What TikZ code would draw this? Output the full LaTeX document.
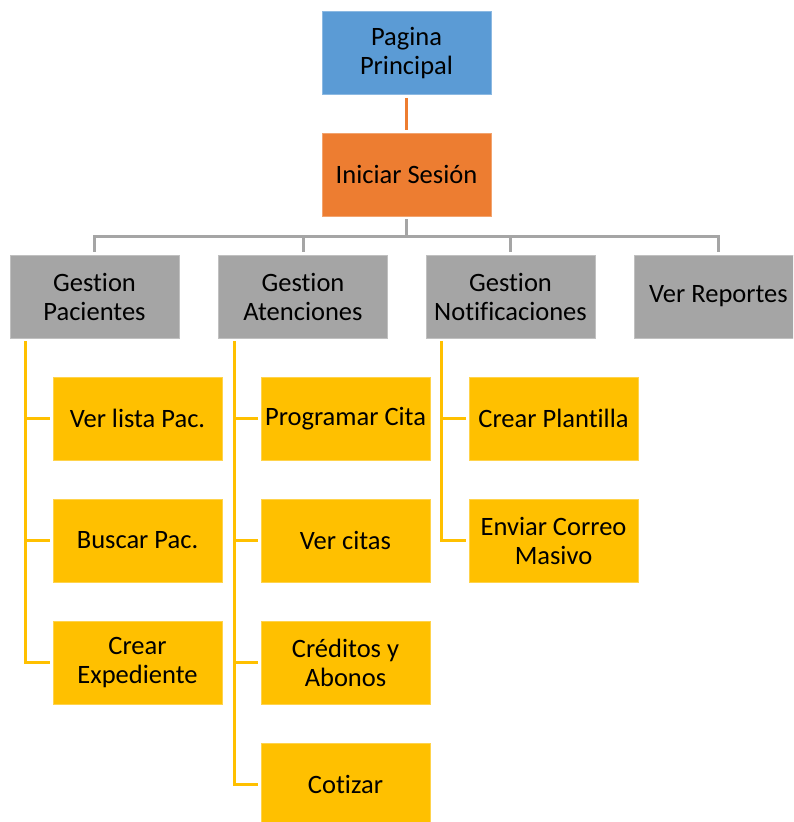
\documentclass[tikz,border=0pt]{standalone}
\usepackage{fontspec}
\setmainfont[Ligatures=NoCommon]{Carlito}
\usetikzlibrary{calc}
\definecolor{cblue}{HTML}{5B9BD5}
\definecolor{corange}{HTML}{ED7D31}
\definecolor{cgray}{HTML}{A5A5A5}
\definecolor{cyellow}{HTML}{FFC000}
\tikzset{
  box/.style={minimum width=169pt, minimum height=83pt, inner sep=2pt, align=center,
    font=\fontsize{26.5}{29}\selectfont, text=black, line width=0.8pt},
  bluebox/.style={box, fill=cblue, draw=cblue!70!white},
  orangebox/.style={box, fill=corange, draw=corange!70!white},
  graybox/.style={box, fill=cgray, draw=cgray!70!white},
  yellowbox/.style={box, fill=cyellow, draw=cyellow!70!white},
  link/.style={line width=3pt, shorten <=3pt, shorten >=3pt},
}
\begin{document}
\begin{tikzpicture}[x=1pt,y=-1pt]
\useasboundingbox (0,0) rectangle (793,822);
\begin{scope}
\clip (0,0) rectangle (793,822);
% top levels
\node[bluebox] (home) at (406.5,53) {Pagina\\Principal};
\node[orangebox] (login) at (406.5,174.5) {Iniciar Sesión};
% modules
\node[graybox] (gpac) at (94.5,296.5) {Gestion\\Pacientes};
\node[graybox] (gate) at (303,296.5) {Gestion\\Atenciones};
\node[graybox] (gnot) at (510.5,296.5) {Gestion\\Notificaciones};
\node[graybox] (rep) at (718.5,296.5) {Ver Reportes};
% patients
\node[yellowbox] (p1) at (137.5,418.5) {Ver lista Pac.};
\node[yellowbox] (p2) at (137.5,540.5) {Buscar Pac.};
\node[yellowbox] (p3) at (137.5,662.5) {Crear\\Expediente};
% appointments
\node[yellowbox] (a1) at (345.5,418.5) {Programar Cita};
\node[yellowbox] (a2) at (345.5,540.5) {Ver citas};
\node[yellowbox] (a3) at (345.5,662.5) {Créditos y\\Abonos};
\node[yellowbox] (a4) at (345.5,784.5) {Cotizar};
% notifications
\node[yellowbox] (n1) at (553.5,418.5) {Crear Plantilla};
\node[yellowbox] (n2) at (553.5,540.5) {Enviar Correo\\Masivo};
\end{scope}
% connectors
\draw[link, line width=2.5pt, corange] (home.south) -- (login.north);
\foreach \m in {gpac,gate,gnot,rep}
  \draw[link, cgray] (login.south) -- ++(0,20) -| (\m.north);
\foreach \m/\c in {gpac/p1,gpac/p2,gpac/p3,gate/a1,gate/a2,gate/a3,gate/a4,gnot/n1,gnot/n2}
  \draw[link, cyellow] ($(\m.south west)+(16,0)$) |- (\c.west);
\end{tikzpicture}
\end{document}
